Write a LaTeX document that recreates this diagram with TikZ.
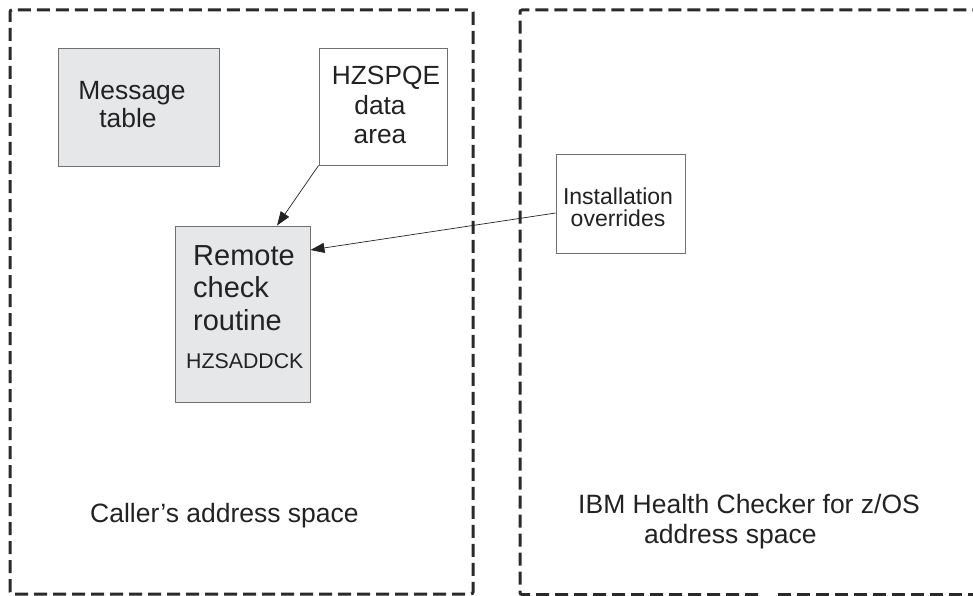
\documentclass[tikz,border=0pt]{standalone}
\usepackage{fontspec}
\setmainfont{Liberation Sans}
\usetikzlibrary{arrows.meta}
\definecolor{txt}{HTML}{222222}
\definecolor{boxline}{HTML}{707070}
\definecolor{boxfill}{HTML}{E6E7E9}
\definecolor{dashc}{HTML}{2A2A2A}
\tikzset{
  space/.style={draw=dashc, line width=3pt, dash pattern=on 13pt off 6pt, rounded corners=2pt},
  graybox/.style={draw=boxline, fill=boxfill, line width=0.9pt, inner sep=0pt},
  whitebox/.style={draw=boxline, fill=white, line width=0.9pt, inner sep=0pt},
  txtw/.style={text=txt, inner sep=0pt, anchor=base west},
  txtc/.style={text=txt, inner sep=0pt, anchor=base},
  conn/.style={draw=txt, line width=0.7pt, -{Triangle[length=14pt,width=10pt]}},
}
\begin{document}
\begin{tikzpicture}[x=1pt,y=-1pt]
\useasboundingbox (0,0) rectangle (973,596);
% address spaces
\draw[space] (10,594) -- (10,10) -- (473,10) -- (473,594) -- cycle;
\draw[space] (758,594.5) -- (520,594.5) -- (520,10) -- (980,10);
\draw[space] (778,594.5) -- (980,594.5);
% boxes
\node[graybox, minimum width=161pt, minimum height=118pt] (msg) at (138.5,107) {};
\node[whitebox, minimum width=128pt, minimum height=117pt] (pqe) at (383,106.5) {};
\node[graybox, minimum width=135pt, minimum height=176pt] (rem) at (242.5,314) {};
\node[whitebox, minimum width=129pt, minimum height=99pt] (inst) at (620.5,203.5) {};
% texts
\node[txtc, font=\fontsize{26.4}{29}\selectfont] (m1) at (132,100) {Message};
\node[txtc, font=\fontsize{26.4}{29}\selectfont] (m2) at (128,128) {table};
\node[txtc, font=\fontsize{26.3}{29}\selectfont] (p1) at (386,85) {HZSPQE};
\node[txtc, font=\fontsize{26.3}{29}\selectfont] (p2) at (380,115) {data};
\node[txtc, font=\fontsize{26.3}{29}\selectfont] (p3) at (380,144) {area};
\node[txtw, font=\fontsize{29}{32}\selectfont] (r1) at (193,265) {Remote};
\node[txtw, font=\fontsize{29}{32}\selectfont] (r2) at (193,297.5) {check};
\node[txtw, font=\fontsize{29}{32}\selectfont] (r3) at (193,330) {routine};
\node[txtw, font=\fontsize{21.3}{24}\selectfont] (r4) at (186,368) {HZSADDCK};
\node[txtc, font=\fontsize{23}{24}\selectfont] (i1) at (618,204) {Installation};
\node[txtc, font=\fontsize{23}{24}\selectfont] (i2) at (618,226) {overrides};
\node[txtw, font=\fontsize{26.5}{30}\selectfont] (c1) at (90,522) {Caller’s address space};
\node[txtw, font=\fontsize{26.5}{30}\selectfont] (h1) at (578,513) {IBM Health Checker for z/OS};
\node[txtw, font=\fontsize{26.5}{30}\selectfont] (h2) at (644,543) {address space};
% connectors
\draw[conn] (pqe.south west) -- (rem.north -| 277,0);
\draw[conn] (inst.west |- 0,213) -- (rem.east |- 0,250);
\end{tikzpicture}
\end{document}
